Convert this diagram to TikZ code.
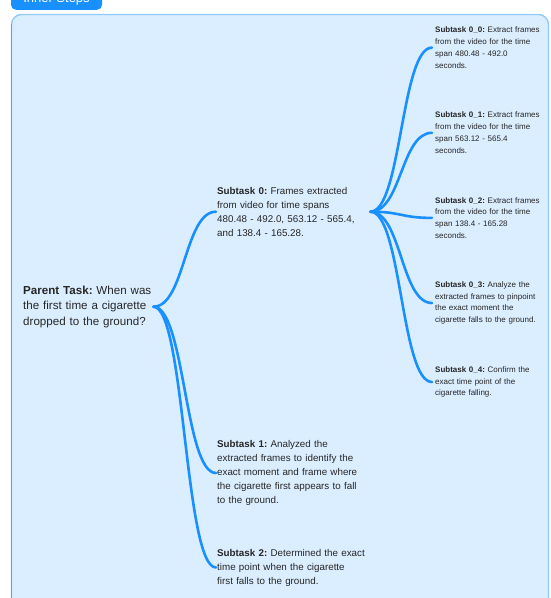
\documentclass[tikz,border=0pt]{standalone}
\usepackage{fontspec}
\setmainfont{Liberation Sans}
\usetikzlibrary{positioning}
\definecolor{cPanel}{HTML}{DBEEFF}
\definecolor{cEdge} {HTML}{91CAFF}
\definecolor{cEdgeL}{HTML}{4DA8FA}
\definecolor{cLnk}  {HTML}{1890FF}
\definecolor{cTxt}  {HTML}{262626}
\tikzset{
  task/.style ={anchor=west,align=left,inner sep=3pt,text=cTxt},
  root/.style ={task,font=\fontsize{11.6}{15.6}\selectfont,text width=130pt,inner xsep=0pt},
  mid/.style  ={task,font=\fontsize{9.8}{14}\selectfont,text width=152pt,inner xsep=1pt},
  leaf/.style ={task,font=\fontsize{8}{11.8}\selectfont,text width=112pt},
  lnk/.style  ={draw=cLnk,line width=2.6pt,line cap=round},
  tab/.style  ={fill=cLnk,text=white,rounded corners=5pt,minimum width=91pt,
                minimum height=20pt,inner sep=0pt,font=\fontsize{13}{15}\selectfont},
}

\begin{document}
\frenchspacing\hyphenpenalty=10000\exhyphenpenalty=10000
\begin{tikzpicture}[x=1pt, y=-1pt]
\useasboundingbox (0,0) rectangle (551,598);

% --- panel and its tab ---------------------------------------------------
\fill[cPanel,draw=cEdge,line width=1.4pt,rounded corners=10pt]
  (11.5,14.5) rectangle (548.5,640);
\draw[cEdgeL,line width=1.4pt] (11.5,24) -- (11.5,640);
\node[tab,anchor=south] (tb) at (56.5,10) {Inner Steps};

% --- parent and first level ----------------------------------------------
\node[root] (pt) at (23,306.7)
  {\textbf{Parent Task:} When was\\ the first time a cigarette\\ dropped to the ground?};
\node[mid] (s0) at (216,211.7)
  {\textbf{Subtask 0:} Frames extracted\\ from video for time spans\\
   480.48 - 492.0, 563.12 - 565.4,\\ and 138.4 - 165.28.};
\node[mid] (s1) at (216,473)
  {\textbf{Subtask 1:} Analyzed the\\ extracted frames to identify the\\
   exact moment and frame where\\ the cigarette first appears to fall\\ to the ground.};
\node[mid] (s2) at (216,567.5)
  {\textbf{Subtask 2:} Determined the exact\\ time point when the cigarette\\
   first falls to the ground.};

% --- second level under subtask 0 ----------------------------------------
\node[leaf] (s00) at (432,47.6)
  {\textbf{Subtask 0\_0:} Extract frames\\ from the video for the time\\ span 480.48 - 492.0\\ seconds.};
\node[leaf] (s01) at (432,132.8)
  {\textbf{Subtask 0\_1:} Extract frames\\ from the video for the time\\ span 563.12 - 565.4\\ seconds.};
\node[leaf] (s02) at (432,217.9)
  {\textbf{Subtask 0\_2:} Extract frames\\ from the video for the time\\ span 138.4 - 165.28\\ seconds.};
\node[leaf] (s03) at (432,303)
  {\textbf{Subtask 0\_3:} Analyze the\\ extracted frames to pinpoint\\ the exact moment the\\ cigarette falls to the ground.};
\node[leaf] (s04) at (432,382)
  {\textbf{Subtask 0\_4:} Confirm the\\ exact time point of the\\ cigarette falling.};

% --- links ---------------------------------------------------------------
\foreach \c in {s0,s1,s2}
  \draw[lnk] (pt.east) .. controls +(31.5,0) and +(-31.5,0) .. (\c.west);
\foreach \k in {0,...,4}
  \draw[lnk] (s0.east) .. controls +(31,0) and +(-31,0) .. (s0\k.west);

\end{tikzpicture}
\end{document}
